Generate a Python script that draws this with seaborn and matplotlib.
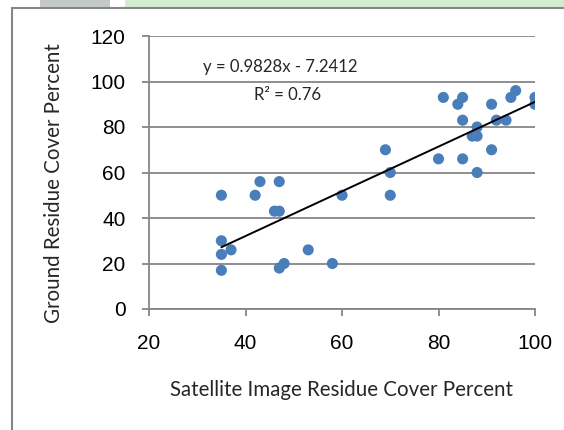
import matplotlib
matplotlib.use("Agg")
import matplotlib.pyplot as plt
import seaborn as sns
import numpy as np
import pandas as pd
from matplotlib.patches import Rectangle

# Data
satellite = [35, 35, 35, 35, 37, 42, 43, 47, 46, 47, 47, 48, 53, 58, 60, 69, 70, 70,
             80, 81, 84, 85, 85, 85, 88, 87, 88, 91, 92, 94, 95, 96, 100, 100, 91, 88]
ground = [50, 30, 24, 17, 26, 50, 56, 56, 43, 43, 18, 20, 26, 20, 50, 70, 60, 50,
          66, 93, 90, 93, 83, 66, 80, 76, 76, 90, 83, 83, 93, 96, 93, 90, 70, 60]
slope = 0.9828
intercept = -7.2412
r2 = 0.76
x_ticks = [20, 40, 60, 80, 100]
y_ticks = [0, 20, 40, 60, 80, 100, 120]

df = pd.DataFrame({"x": satellite, "y": ground})
fx = np.array([min(satellite), max(satellite)])
fit = pd.DataFrame({"x": fx, "y": slope * fx + intercept})

sns.set_theme(style="white")
plt.rcParams["font.family"] = ["Liberation Sans", "DejaVu Sans"]

fig = plt.figure(figsize=(5.64, 4.30), dpi=100)
W, H = 564, 430
ax = fig.add_axes([149 / W, (H - 309) / H, (535 - 149) / W, (309 - 36) / H])
ax.set_zorder(5)

# watermark hints and chart frame
fig.patches.append(Rectangle((40 / W, (H - 8) / H), 70 / W, 8 / H, transform=fig.transFigure,
                             facecolor="#c4c8c8", edgecolor="none", zorder=-10))
fig.patches.append(Rectangle((125 / W, (H - 8) / H), 439 / W, 8 / H, transform=fig.transFigure,
                             facecolor="#d3ecd0", edgecolor="none", zorder=-10))
fig.patches.append(Rectangle((12 / W, -0.05), 0.98, (H - 8) / H + 0.05, transform=fig.transFigure,
                             facecolor="white", edgecolor="#868686", linewidth=1.5, zorder=-9))

ax.set_facecolor("none")
for yt in y_ticks:
    ax.axhline(yt, color="#868686", linewidth=1.3, zorder=0)

sns.scatterplot(data=df, x="x", y="y", ax=ax, color="#4a7ebb", s=64,
                edgecolor="none", zorder=3)
sns.lineplot(data=fit, x="x", y="y", ax=ax, color="black", linewidth=1.4, zorder=4)

ax.set_xlim(20, 100)
ax.set_ylim(0, 120)
ax.set_xticks(x_ticks)
ax.set_yticks(y_ticks)
ax.tick_params(axis="both", labelsize=15, length=5, width=1.3, color="#868686",
               direction="out", labelcolor="black")
ax.tick_params(axis="y", pad=12)
ax.tick_params(axis="x", pad=13)
ax.xaxis.set_ticks_position("bottom")
ax.yaxis.set_ticks_position("left")
for sp in ["top", "right"]:
    ax.spines[sp].set_visible(False)
for sp in ["left", "bottom"]:
    ax.spines[sp].set_color("#868686")
    ax.spines[sp].set_linewidth(1.3)

ax.set_xlabel("Satellite Image Residue Cover Percent", fontsize=14.8,
              family=["Lato", "DejaVu Sans"])
ax.set_ylabel("Ground Residue Cover Percent", fontsize=14.8,
              family=["Lato", "DejaVu Sans"])
ax.xaxis.set_label_coords((342 - 149) / (535 - 149), -(390 - 309) / (309 - 36))
ax.yaxis.set_label_coords(-(149 - 54) / (535 - 149), (309 - 183) / (309 - 36))
ax.xaxis.label.set_va("center")
ax.yaxis.label.set_va("center")

ax.text(31.2, 106.4, f"y = {slope}x - {abs(intercept)}", fontsize=12.1,
        family=["Lato", "DejaVu Sans"], ha="left", va="center")
ax.text(41.7, 94.1, f"R² = {r2}", fontsize=12.1,
        family=["Lato", "DejaVu Sans"], ha="left", va="center")

fig.savefig("out.png", dpi=100)
